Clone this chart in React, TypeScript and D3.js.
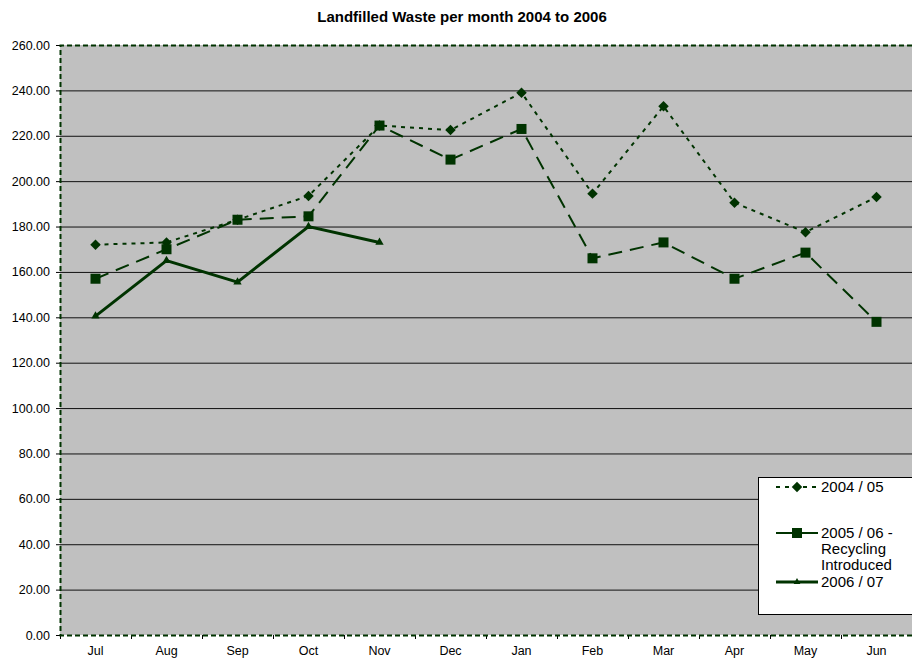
import React, { useEffect, useRef } from "react";
import * as d3 from "d3";

const months = ["Jul", "Aug", "Sep", "Oct", "Nov", "Dec", "Jan", "Feb", "Mar", "Apr", "May", "Jun"];
const y0405 = [172, 173, 183, 193.5, 224.5, 222.5, 239, 194.5, 233, 190.5, 177.5, 193];
const y0506 = [157, 170, 183, 184.5, 224.5, 209.5, 223, 166, 173, 157, 168.5, 138];
const y0607 = [140.5, 165, 155.5, 180, 173];
const yTicks = [0, 20, 40, 60, 80, 100, 120, 140, 160, 180, 200, 220, 240, 260];

const green = "#003300";

const App = () => {
  const svgRef = useRef<SVGSVGElement>(null);

  useEffect(() => {
    const width = 912;
    const height = 659;
    const left = 60;
    const right = 912;
    const top = 45;
    const bottom = 635;

    const svg = d3.select(svgRef.current);
    svg.selectAll("*").remove();
    svg.attr("width", width).attr("height", height)
      .style("font-family", "Arial, 'Liberation Sans', sans-serif");

    const x = d3.scaleBand().domain(months).range([left, right]);
    const y = d3.scaleLinear().domain([0, 260]).range([bottom, top]);

    // title
    svg.append("text")
      .attr("x", 462).attr("y", 22)
      .attr("text-anchor", "middle")
      .attr("font-size", 15).attr("font-weight", "bold")
      .text("Landfilled Waste per month 2004 to 2006");

    // plot background
    svg.append("rect")
      .attr("x", left).attr("y", top)
      .attr("width", right - left).attr("height", bottom - top)
      .attr("fill", "#c0c0c0");

    // gridlines
    svg.append("g").selectAll("line")
      .data(yTicks.filter(d => d > 0 && d < 260))
      .join("line")
      .attr("x1", left).attr("x2", right)
      .attr("y1", d => y(d) + 0.5).attr("y2", d => y(d) + 0.5)
      .attr("stroke", "#111").attr("stroke-width", 1);

    // y axis labels + ticks
    const gy = svg.append("g");
    gy.selectAll("text").data(yTicks).join("text")
      .attr("x", 50).attr("y", d => y(d) + 4.5)
      .attr("text-anchor", "end").attr("font-size", 12.5)
      .text(d => d.toFixed(2));
    gy.selectAll("line").data(yTicks).join("line")
      .attr("x1", left - 4).attr("x2", left)
      .attr("y1", d => y(d) + 0.5).attr("y2", d => y(d) + 0.5)
      .attr("stroke", "#000");

    // x axis ticks + labels
    const gx = svg.append("g");
    gx.selectAll("line").data(months).join("line")
      .attr("x1", d => x(d)! + 0.5).attr("x2", d => x(d)! + 0.5)
      .attr("y1", bottom).attr("y2", bottom + 4)
      .attr("stroke", "#000");
    gx.selectAll("text").data(months).join("text")
      .attr("x", d => x(d)! + x.bandwidth() / 2)
      .attr("y", 655)
      .attr("text-anchor", "middle").attr("font-size", 12.5)
      .text(d => d);

    // plot border (dashed)
    svg.append("path")
      .attr("d", `M${right},${top + 0.5}H${left + 0.5}V${bottom + 0.5}H${right}`)
      .attr("fill", "none").attr("stroke", green).attr("stroke-width", 2)
      .attr("stroke-dasharray", "5,3");

    const cx = (i: number) => x(months[i])! + x.bandwidth() / 2;
    const line = d3.line<number>().x((d, i) => cx(i)).y(d => y(d));

    // 2004/05
    svg.append("path").datum(y0405).attr("d", line)
      .attr("fill", "none").attr("stroke", green).attr("stroke-width", 2)
      .attr("stroke-dasharray", "4,5");
    svg.append("g").selectAll("path").data(y0405).join("path")
      .attr("d", d3.symbol(d3.symbolDiamond2, 70))
      .attr("transform", (d, i) => `translate(${cx(i)},${y(d)})`)
      .attr("fill", green);

    // 2005/06
    svg.append("path").datum(y0506).attr("d", line)
      .attr("fill", "none").attr("stroke", green).attr("stroke-width", 2)
      .attr("stroke-dasharray", "14,8");
    svg.append("g").selectAll("rect").data(y0506).join("rect")
      .attr("x", (d, i) => cx(i) - 5).attr("y", d => y(d) - 5)
      .attr("width", 10).attr("height", 10)
      .attr("fill", green);

    // 2006/07
    svg.append("path").datum(y0607).attr("d", line)
      .attr("fill", "none").attr("stroke", green).attr("stroke-width", 3);
    svg.append("g").selectAll("path").data(y0607).join("path")
      .attr("d", d3.symbol(d3.symbolTriangle, 30))
      .attr("transform", (d, i) => `translate(${cx(i)},${y(d)})`)
      .attr("fill", green);

    // legend
    const lg = svg.append("g");
    lg.append("rect")
      .attr("x", 758.5).attr("y", 477.5).attr("width", 160).attr("height", 137)
      .attr("fill", "#fff").attr("stroke", "#000");

    const lx1 = 776, lx2 = 818, lmid = 797;
    // entry 1
    lg.append("line").attr("x1", lx1).attr("x2", lx2).attr("y1", 487).attr("y2", 487)
      .attr("stroke", green).attr("stroke-width", 2).attr("stroke-dasharray", "4,5");
    lg.append("path").attr("d", d3.symbol(d3.symbolDiamond2, 70))
      .attr("transform", `translate(${lmid},487)`).attr("fill", green);
    lg.append("text").attr("x", 821).attr("y", 492).attr("font-size", 15).text("2004 / 05");
    // entry 2
    lg.append("line").attr("x1", lx1).attr("x2", lx2).attr("y1", 533).attr("y2", 533)
      .attr("stroke", green).attr("stroke-width", 2);
    lg.append("rect").attr("x", lmid - 5).attr("y", 528).attr("width", 10).attr("height", 10)
      .attr("fill", green);
    const t2 = lg.append("text").attr("font-size", 15);
    t2.append("tspan").attr("x", 821).attr("y", 538).text("2005 / 06 -");
    t2.append("tspan").attr("x", 821).attr("y", 554).text("Recycling");
    t2.append("tspan").attr("x", 821).attr("y", 570).text("Introduced");
    // entry 3
    lg.append("line").attr("x1", lx1).attr("x2", lx2).attr("y1", 582).attr("y2", 582)
      .attr("stroke", green).attr("stroke-width", 3);
    lg.append("path").attr("d", d3.symbol(d3.symbolTriangle, 20))
      .attr("transform", `translate(${lmid},582)`).attr("fill", green);
    lg.append("text").attr("x", 821).attr("y", 587).attr("font-size", 15).text("2006 / 07");
  }, []);

  return <svg ref={svgRef} style={{ position: "absolute", left: 0, top: 0 }}></svg>;
};

export default App;
